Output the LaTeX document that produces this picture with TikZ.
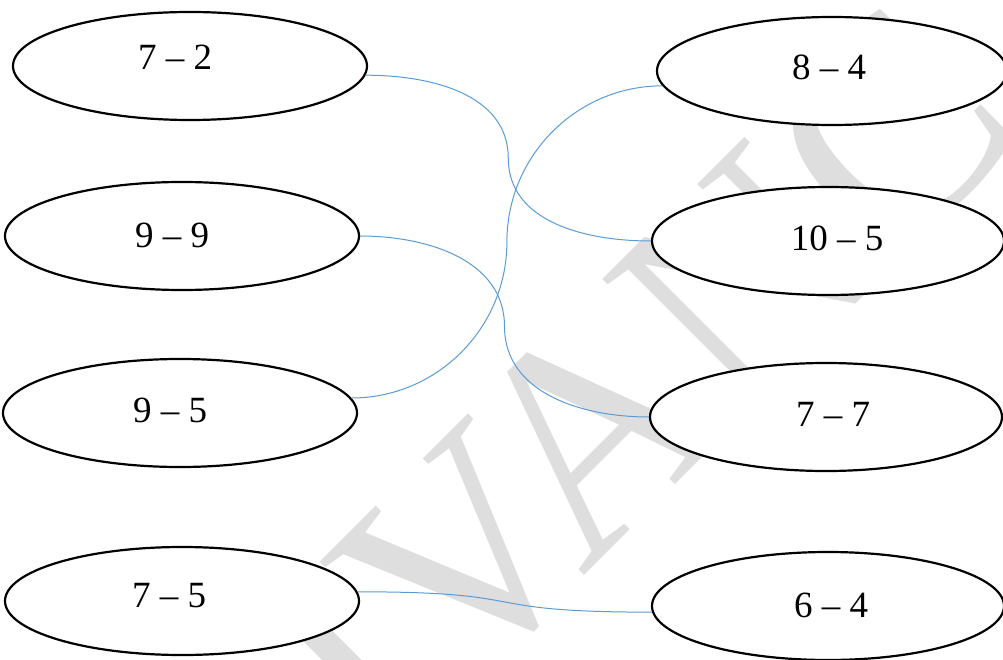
\documentclass[tikz,border=0pt]{standalone}
\usepackage{fontspec}
\setmainfont{Liberation Serif}
\usepackage{tikz}
\usepackage{xcolor}
\usetikzlibrary{shapes.geometric,calc}
\definecolor{linkblue}{RGB}{91,155,213}
\definecolor{markgray}{RGB}{222,222,222}
\tikzset{
  sum/.style={ellipse,draw,line width=2.2pt,fill=white,inner sep=0pt,
    minimum width=354pt,minimum height=108pt},
  sumtext/.style={inner sep=0pt,font=\fontsize{37}{40}\selectfont},
  link/.style={draw=linkblue,line width=1pt}
}

\begin{document}
\begin{tikzpicture}[x=1pt,y=-1pt]
    \useasboundingbox (0,0) rectangle (1003,660);
    \node[rotate=45,anchor=base west,text=markgray,font=\fontsize{300}{300}\selectfont] (mark) at (383,777) {IVANC};
    \node[sum] (l72) at (190,66) {};
    \node[sum] (l99) at (182,236) {};
    \node[sum] (l95) at (180,413) {};
    \node[sum] (l75) at (182,601) {};
    \node[sum,minimum width=350pt] (r84) at (832,71) {};
    \node[sum,minimum width=352pt] (r105) at (828,241) {};
    \node[sum,minimum width=352pt] (r77) at (826,417) {};
    \node[sum,minimum width=352pt] (r64) at (828,606) {};
    \node[sumtext] (t72) at (175,57) {7 -- 2};
    \node[sumtext] (t99) at (172,235) {9 -- 9};
    \node[sumtext] (t95) at (170,410) {9 -- 5};
    \node[sumtext] (t75) at (169,596) {7 -- 5};
    \node[sumtext] (t84) at (829,67) {8 -- 4};
    \node[sumtext] (t105) at (837,238) {10 -- 5};
    \node[sumtext] (t77) at (833,414) {7 -- 7};
    \node[sumtext] (t64) at (831,605) {6 -- 4};
    \coordinate (m1) at ($(l72.-3)!.5!(r105.west)$);
    \coordinate (m2) at ($(l99.east)!.5!(r77.west)$);
    \coordinate (m3) at ($(l95.5)!.5!(r84.185)$);
    \draw[link] (l72.-3) to[out=0,in=90] (m1) to[out=-90,in=180] (r105.west);
    \draw[link] (l99.east) to[out=0,in=90] (m2) to[out=-90,in=180] (r77.west);
    \draw[link] (l95.5) to[out=0,in=-90] (m3) to[out=90,in=180] (r84.185);
    \draw[link] (l75.3) to[out=0,in=180,looseness=1.6] (r64.182);
  \end{tikzpicture}
\end{document}
